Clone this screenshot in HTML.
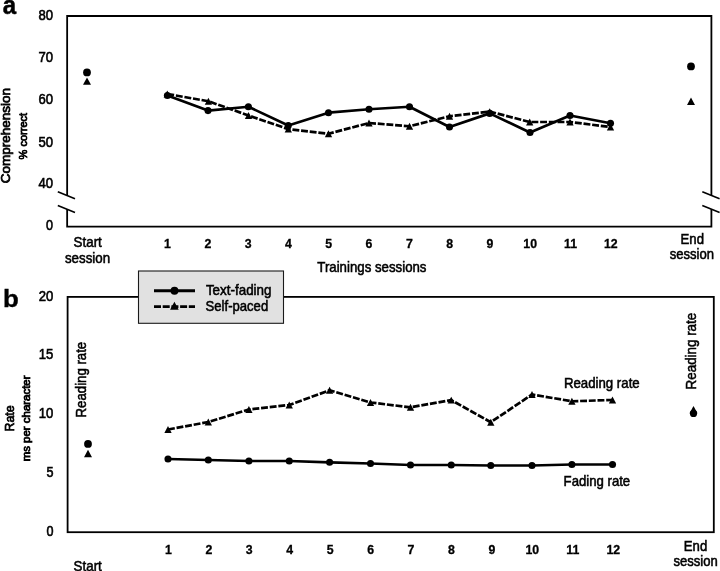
<!DOCTYPE html>
<html lang="en">
<head>
<meta charset="utf-8">
<title>Comprehension and reading rate across training sessions</title>
<style>
html,body{margin:0;padding:0;background:#fff;}
body{width:720px;height:571px;overflow:hidden;font-family:'Liberation Sans', sans-serif;}
svg{display:block;will-change:transform;-webkit-font-smoothing:antialiased;}
svg text{font-family:'Liberation Sans', sans-serif;fill:#000;}
</style>
</head>
<body>
<svg width="720" height="571" viewBox="0 0 720 571" fill="#000">
<rect x="0" y="0" width="720" height="571" fill="#fff"/>
<path d="M67.15 195.3V16.0H711.4V195.3M67.15 209.2V226.6H711.4V209.2" fill="none" stroke="#000" stroke-width="1.8" stroke-linejoin="miter"/>
<path d="M57.8 191.8L75.0 198.8" stroke="#000" stroke-width="1.6" fill="none"/>
<path d="M57.8 205.6L75.0 212.6" stroke="#000" stroke-width="1.6" fill="none"/>
<path d="M702.3 191.8L719.6 198.8" stroke="#000" stroke-width="1.6" fill="none"/>
<path d="M702.3 205.6L719.6 212.6" stroke="#000" stroke-width="1.6" fill="none"/>
<text x="53.1" y="19.8" font-size="14.1" text-anchor="end" textLength="14.6" lengthAdjust="spacingAndGlyphs" stroke="#000" stroke-width="0.6">80</text>
<text x="53.1" y="62.3" font-size="14.1" text-anchor="end" textLength="14.6" lengthAdjust="spacingAndGlyphs" stroke="#000" stroke-width="0.6">70</text>
<text x="53.1" y="104.4" font-size="14.1" text-anchor="end" textLength="14.6" lengthAdjust="spacingAndGlyphs" stroke="#000" stroke-width="0.6">60</text>
<text x="53.1" y="146.5" font-size="14.1" text-anchor="end" textLength="14.6" lengthAdjust="spacingAndGlyphs" stroke="#000" stroke-width="0.6">50</text>
<text x="53.1" y="188.4" font-size="14.1" text-anchor="end" textLength="14.6" lengthAdjust="spacingAndGlyphs" stroke="#000" stroke-width="0.6">40</text>
<text x="53.1" y="230.1" font-size="14.1" text-anchor="end" textLength="7.0" lengthAdjust="spacingAndGlyphs" stroke="#000" stroke-width="0.6">0</text>
<text x="167.5" y="248.1" font-size="12.3" font-weight="bold" text-anchor="middle" stroke="#000" stroke-width="0.3">1</text>
<text x="207.8" y="248.1" font-size="12.3" font-weight="bold" text-anchor="middle" stroke="#000" stroke-width="0.3">2</text>
<text x="248.1" y="248.1" font-size="12.3" font-weight="bold" text-anchor="middle" stroke="#000" stroke-width="0.3">3</text>
<text x="288.4" y="248.1" font-size="12.3" font-weight="bold" text-anchor="middle" stroke="#000" stroke-width="0.3">4</text>
<text x="328.7" y="248.1" font-size="12.3" font-weight="bold" text-anchor="middle" stroke="#000" stroke-width="0.3">5</text>
<text x="369.0" y="248.1" font-size="12.3" font-weight="bold" text-anchor="middle" stroke="#000" stroke-width="0.3">6</text>
<text x="409.3" y="248.1" font-size="12.3" font-weight="bold" text-anchor="middle" stroke="#000" stroke-width="0.3">7</text>
<text x="449.6" y="248.1" font-size="12.3" font-weight="bold" text-anchor="middle" stroke="#000" stroke-width="0.3">8</text>
<text x="489.9" y="248.1" font-size="12.3" font-weight="bold" text-anchor="middle" stroke="#000" stroke-width="0.3">9</text>
<text x="530.2" y="248.1" font-size="12.3" font-weight="bold" text-anchor="middle" stroke="#000" stroke-width="0.3">10</text>
<text x="570.5" y="248.1" font-size="12.3" font-weight="bold" text-anchor="middle" stroke="#000" stroke-width="0.3">11</text>
<text x="610.8" y="248.1" font-size="12.3" font-weight="bold" text-anchor="middle" stroke="#000" stroke-width="0.3">12</text>
<path d="M167.30 94.00L208.40 101.25L248.50 115.50L288.30 129.10L328.50 133.75L369.00 123.00L409.50 126.25L449.50 116.25L489.70 111.60L529.70 122.00L570.00 122.00L610.50 127.00" fill="none" stroke="#000" stroke-width="2.7" stroke-linejoin="round" stroke-dasharray="6.9 1.8"/>
<path d="M167.40 95.50L208.00 110.60L248.40 106.75L288.30 125.50L328.50 112.70L369.00 109.25L409.50 106.75L449.50 127.00L489.70 113.40L530.00 132.50L570.00 115.50L610.50 123.25" fill="none" stroke="#000" stroke-width="2.7" stroke-linejoin="round"/>
<path d="M167.30 90.55L170.95 97.45L163.65 97.45Z"/>
<path d="M208.40 97.80L212.05 104.70L204.75 104.70Z"/>
<path d="M248.50 112.05L252.15 118.95L244.85 118.95Z"/>
<path d="M288.30 125.65L291.95 132.55L284.65 132.55Z"/>
<path d="M328.50 130.30L332.15 137.20L324.85 137.20Z"/>
<path d="M369.00 119.55L372.65 126.45L365.35 126.45Z"/>
<path d="M409.50 122.80L413.15 129.70L405.85 129.70Z"/>
<path d="M449.50 112.80L453.15 119.70L445.85 119.70Z"/>
<path d="M489.70 108.15L493.35 115.05L486.05 115.05Z"/>
<path d="M529.70 118.55L533.35 125.45L526.05 125.45Z"/>
<path d="M570.00 118.55L573.65 125.45L566.35 125.45Z"/>
<path d="M610.50 123.55L614.15 130.45L606.85 130.45Z"/>
<circle cx="167.4" cy="95.5" r="3.55"/>
<circle cx="208" cy="110.6" r="3.55"/>
<circle cx="248.4" cy="106.75" r="3.55"/>
<circle cx="288.3" cy="125.5" r="3.55"/>
<circle cx="328.5" cy="112.7" r="3.55"/>
<circle cx="369" cy="109.25" r="3.55"/>
<circle cx="409.5" cy="106.75" r="3.55"/>
<circle cx="449.5" cy="127" r="3.55"/>
<circle cx="489.7" cy="113.4" r="3.55"/>
<circle cx="530" cy="132.5" r="3.55"/>
<circle cx="570" cy="115.5" r="3.55"/>
<circle cx="610.5" cy="123.25" r="3.55"/>
<circle cx="87.0" cy="72.4" r="3.9"/>
<path d="M87.00 77.40L91.00 84.80L83.00 84.80Z"/>
<circle cx="691.0" cy="66.4" r="3.9"/>
<path d="M691.00 97.50L695.00 104.90L687.00 104.90Z"/>
<text x="2.7" y="13.6" font-size="26" font-weight="bold" textLength="13.4" lengthAdjust="spacingAndGlyphs" stroke="#000" stroke-width="0.5">a</text>
<text x="10.0" y="183.3" font-size="13" textLength="95.2" lengthAdjust="spacingAndGlyphs" transform="rotate(-90 10.0 183.3)" stroke="#000" stroke-width="0.75">Comprehension</text>
<text x="26.8" y="159.4" font-size="10.8" textLength="46.6" lengthAdjust="spacingAndGlyphs" transform="rotate(-90 26.8 159.4)" stroke="#000" stroke-width="0.75">% correct</text>
<text x="73.6" y="247.4" font-size="14.6" textLength="28.2" lengthAdjust="spacingAndGlyphs" stroke="#000" stroke-width="0.55">Start</text>
<text x="64.9" y="263.3" font-size="14.6" textLength="45.2" lengthAdjust="spacingAndGlyphs" stroke="#000" stroke-width="0.55">session</text>
<text x="680.6" y="243.75" font-size="14.6" textLength="23.4" lengthAdjust="spacingAndGlyphs" stroke="#000" stroke-width="0.55">End</text>
<text x="669.7" y="259.25" font-size="14.6" textLength="44.3" lengthAdjust="spacingAndGlyphs" stroke="#000" stroke-width="0.55">session</text>
<text x="317.3" y="272.0" font-size="14.6" textLength="109.2" lengthAdjust="spacingAndGlyphs" stroke="#000" stroke-width="0.55">Trainings sessions</text>
<rect x="67.6" y="296.9" width="646.1999999999999" height="235.30000000000007" fill="none" stroke="#000" stroke-width="1.8"/>
<text x="53.4" y="300.5" font-size="14.1" text-anchor="end" textLength="14.6" lengthAdjust="spacingAndGlyphs" stroke="#000" stroke-width="0.6">20</text>
<text x="53.4" y="359.4" font-size="14.1" text-anchor="end" textLength="14.6" lengthAdjust="spacingAndGlyphs" stroke="#000" stroke-width="0.6">15</text>
<text x="53.4" y="418.2" font-size="14.1" text-anchor="end" textLength="14.6" lengthAdjust="spacingAndGlyphs" stroke="#000" stroke-width="0.6">10</text>
<text x="53.4" y="476.8" font-size="14.1" text-anchor="end" textLength="7.0" lengthAdjust="spacingAndGlyphs" stroke="#000" stroke-width="0.6">5</text>
<text x="53.4" y="535.7" font-size="14.1" text-anchor="end" textLength="7.0" lengthAdjust="spacingAndGlyphs" stroke="#000" stroke-width="0.6">0</text>
<text x="168.4" y="553.9" font-size="12.3" font-weight="bold" text-anchor="middle" stroke="#000" stroke-width="0.3">1</text>
<text x="208.84" y="553.9" font-size="12.3" font-weight="bold" text-anchor="middle" stroke="#000" stroke-width="0.3">2</text>
<text x="249.28" y="553.9" font-size="12.3" font-weight="bold" text-anchor="middle" stroke="#000" stroke-width="0.3">3</text>
<text x="289.72" y="553.9" font-size="12.3" font-weight="bold" text-anchor="middle" stroke="#000" stroke-width="0.3">4</text>
<text x="330.16" y="553.9" font-size="12.3" font-weight="bold" text-anchor="middle" stroke="#000" stroke-width="0.3">5</text>
<text x="370.6" y="553.9" font-size="12.3" font-weight="bold" text-anchor="middle" stroke="#000" stroke-width="0.3">6</text>
<text x="411.04" y="553.9" font-size="12.3" font-weight="bold" text-anchor="middle" stroke="#000" stroke-width="0.3">7</text>
<text x="451.48" y="553.9" font-size="12.3" font-weight="bold" text-anchor="middle" stroke="#000" stroke-width="0.3">8</text>
<text x="491.92" y="553.9" font-size="12.3" font-weight="bold" text-anchor="middle" stroke="#000" stroke-width="0.3">9</text>
<text x="532.36" y="553.9" font-size="12.3" font-weight="bold" text-anchor="middle" stroke="#000" stroke-width="0.3">10</text>
<text x="572.8" y="553.9" font-size="12.3" font-weight="bold" text-anchor="middle" stroke="#000" stroke-width="0.3">11</text>
<text x="613.24" y="553.9" font-size="12.3" font-weight="bold" text-anchor="middle" stroke="#000" stroke-width="0.3">12</text>
<path d="M168.00 429.50L208.30 422.00L248.90 409.50L289.25 405.00L329.60 390.30L370.50 402.50L410.50 407.30L451.25 400.10L490.80 422.20L532.00 394.50L571.90 401.25L612.50 400.00" fill="none" stroke="#000" stroke-width="2.7" stroke-linejoin="round" stroke-dasharray="6.9 1.8"/>
<path d="M168.00 459.00L208.30 460.00L248.90 461.00L289.25 461.00L329.60 462.30L370.50 463.50L410.50 465.00L451.25 465.00L490.80 465.50L532.00 465.50L571.90 464.50L612.50 464.50" fill="none" stroke="#000" stroke-width="2.7" stroke-linejoin="round"/>
<path d="M168.00 426.05L171.65 432.95L164.35 432.95Z"/>
<path d="M208.30 418.55L211.95 425.45L204.65 425.45Z"/>
<path d="M248.90 406.05L252.55 412.95L245.25 412.95Z"/>
<path d="M289.25 401.55L292.90 408.45L285.60 408.45Z"/>
<path d="M329.60 386.85L333.25 393.75L325.95 393.75Z"/>
<path d="M370.50 399.05L374.15 405.95L366.85 405.95Z"/>
<path d="M410.50 403.85L414.15 410.75L406.85 410.75Z"/>
<path d="M451.25 396.65L454.90 403.55L447.60 403.55Z"/>
<path d="M490.80 418.75L494.45 425.65L487.15 425.65Z"/>
<path d="M532.00 391.05L535.65 397.95L528.35 397.95Z"/>
<path d="M571.90 397.80L575.55 404.70L568.25 404.70Z"/>
<path d="M612.50 396.55L616.15 403.45L608.85 403.45Z"/>
<circle cx="168.0" cy="459" r="3.55"/>
<circle cx="208.3" cy="460" r="3.55"/>
<circle cx="248.9" cy="461" r="3.55"/>
<circle cx="289.25" cy="461" r="3.55"/>
<circle cx="329.6" cy="462.3" r="3.55"/>
<circle cx="370.5" cy="463.5" r="3.55"/>
<circle cx="410.5" cy="465" r="3.55"/>
<circle cx="451.25" cy="465" r="3.55"/>
<circle cx="490.8" cy="465.5" r="3.55"/>
<circle cx="532" cy="465.5" r="3.55"/>
<circle cx="571.9" cy="464.5" r="3.55"/>
<circle cx="612.5" cy="464.5" r="3.55"/>
<circle cx="88.0" cy="443.9" r="3.9"/>
<path d="M88.00 449.80L92.00 457.20L84.00 457.20Z"/>
<path d="M693.50 405.90L697.50 413.30L689.50 413.30Z"/>
<circle cx="693.5" cy="413.4" r="3.6"/>
<text x="2.9" y="307.0" font-size="24.6" font-weight="bold" textLength="15.8" lengthAdjust="spacingAndGlyphs" stroke="#000" stroke-width="0.35">b</text>
<text x="13.9" y="431.5" font-size="13.5" textLength="26.0" lengthAdjust="spacingAndGlyphs" transform="rotate(-90 13.9 431.5)" stroke="#000" stroke-width="0.75">Rate</text>
<text x="30.3" y="461.3" font-size="10.2" textLength="85.8" lengthAdjust="spacingAndGlyphs" transform="rotate(-90 30.3 461.3)" stroke="#000" stroke-width="0.75">ms per character</text>
<text x="85.7" y="417.4" font-size="14.6" textLength="75.6" lengthAdjust="spacingAndGlyphs" transform="rotate(-90 85.7 417.4)" stroke="#000" stroke-width="0.55">Reading rate</text>
<text x="696.5" y="389.4" font-size="14.6" textLength="76.6" lengthAdjust="spacingAndGlyphs" transform="rotate(-90 696.5 389.4)" stroke="#000" stroke-width="0.55">Reading rate</text>
<text x="563.9" y="388.0" font-size="14.6" textLength="75.8" lengthAdjust="spacingAndGlyphs" stroke="#000" stroke-width="0.55">Reading rate</text>
<text x="563.6" y="485.75" font-size="14.6" textLength="66.6" lengthAdjust="spacingAndGlyphs" stroke="#000" stroke-width="0.55">Fading rate</text>
<text x="73.6" y="570.5" font-size="14.6" textLength="28.2" lengthAdjust="spacingAndGlyphs" stroke="#000" stroke-width="0.55">Start</text>
<text x="683.8" y="550.5" font-size="14.6" textLength="23.4" lengthAdjust="spacingAndGlyphs" stroke="#000" stroke-width="0.55">End</text>
<text x="673.4" y="566.25" font-size="14.6" textLength="44.3" lengthAdjust="spacingAndGlyphs" stroke="#000" stroke-width="0.55">session</text>
<rect x="138.5" y="271.0" width="145.0" height="52.3" fill="#e1e1e1" stroke="#1a1a1a" stroke-width="1.1"/>
<path d="M154.0 290.7H195.0" stroke="#000" stroke-width="2.9" fill="none"/>
<circle cx="174.5" cy="290.8" r="3.95"/>
<path d="M154.0 306.65H195.0" stroke="#000" stroke-width="2.9" fill="none" stroke-dasharray="7 1.7"/>
<path d="M174.40 301.85L178.70 309.75L170.10 309.75Z"/>
<text x="205.9" y="294.6" font-size="14.6" textLength="65.6" lengthAdjust="spacingAndGlyphs" stroke="#000" stroke-width="0.55">Text-fading</text>
<text x="205.6" y="311.2" font-size="14.6" textLength="62.6" lengthAdjust="spacingAndGlyphs" stroke="#000" stroke-width="0.55">Self-paced</text>
</svg>
</body>
</html>
